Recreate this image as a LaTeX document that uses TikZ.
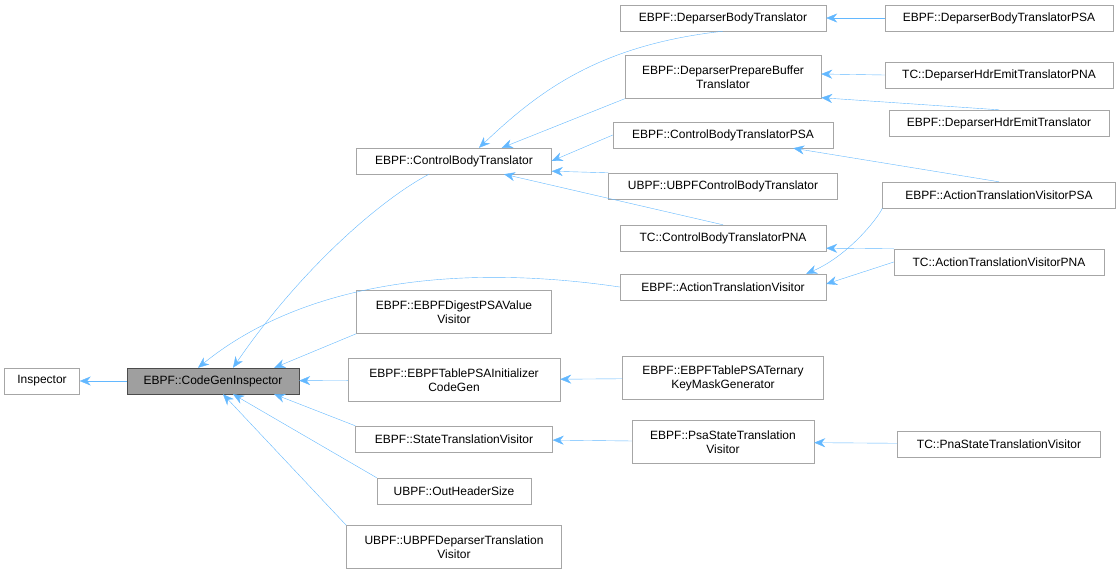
\documentclass[tikz,border=0pt]{standalone}
\usepackage{fontspec}
\setmainfont{Liberation Sans}
\usetikzlibrary{arrows.meta,calc}
\definecolor{edgeblue}{HTML}{63B8FF}
\tikzset{
  cls/.style={draw=gray!70, inner sep=0pt, minimum height=26pt, align=center, font=\fontsize{12}{14}\selectfont},
  tall/.style={minimum height=43pt},
  base/.style={cls, fill=gray!75, draw=black!70},
  inh/.style={draw=edgeblue, {Stealth[length=11pt,width=9pt]}-}
}
\begin{document}
\begin{tikzpicture}[x=1pt,y=-1pt]
\useasboundingbox (0,0) rectangle (1120,576);
\node[cls, minimum width=75] (insp) at (42,381) {Inspector};
\node[base, minimum width=172] (cgi) at (213,381) {EBPF::CodeGenInspector};
\node[cls, minimum width=195] (cbt) at (454,161) {EBPF::ControlBodyTranslator};
\node[cls, minimum width=206] (dbt) at (723,18) {EBPF::DeparserBodyTranslator};
\node[cls, minimum width=228] (dbtpsa) at (999,18) {EBPF::DeparserBodyTranslatorPSA};
\node[cls, tall, minimum width=196] (dpbt) at (723,77) {EBPF::DeparserPrepareBuffer\\Translator};
\node[cls, minimum width=228] (dhetpna) at (999,75) {TC::DeparserHdrEmitTranslatorPNA};
\node[cls, minimum width=220] (dhet) at (999,123) {EBPF::DeparserHdrEmitTranslator};
\node[cls, minimum width=220] (cbtpsa) at (723,135) {EBPF::ControlBodyTranslatorPSA};
\node[cls, minimum width=229] (ucbt) at (723,186) {UBPF::UBPFControlBodyTranslator};
\node[cls, minimum width=233] (atvpsa) at (999,195) {EBPF::ActionTranslationVisitorPSA};
\node[cls, minimum width=206] (cbtpna) at (723,238) {TC::ControlBodyTranslatorPNA};
\node[cls, minimum width=210] (atvpna) at (999,262) {TC::ActionTranslationVisitorPNA};
\node[cls, minimum width=206] (atv) at (723,287) {EBPF::ActionTranslationVisitor};
\node[cls, tall, minimum width=195] (dpsa) at (454,312) {EBPF::EBPFDigestPSAValue\\Visitor};
\node[cls, tall, minimum width=212] (tpsai) at (454,380) {EBPF::EBPFTablePSAInitializer\\CodeGen};
\node[cls, tall, minimum width=201] (tpsat) at (723,378) {EBPF::EBPFTablePSATernary\\KeyMaskGenerator};
\node[cls, minimum width=197] (stv) at (454,439) {EBPF::StateTranslationVisitor};
\node[cls, tall, minimum width=182] (pstv) at (723,442) {EBPF::PsaStateTranslation\\Visitor};
\node[cls, minimum width=203] (pnastv) at (999,444) {TC::PnaStateTranslationVisitor};
\node[cls, minimum width=154] (ohs) at (454,491) {UBPF::OutHeaderSize};
\node[cls, tall, minimum width=215] (udtv) at (454,547) {UBPF::UBPFDeparserTranslation\\Visitor};

\draw[inh] (insp) -- (cgi);
\draw[inh] ($(cgi.north)+(20,0)$) .. controls (300,270) and (380,200) .. ($(cbt.south)+(-25,0)$);
\draw[inh] ($(cgi.north)+(-15,0)$) .. controls (300,285) and (450,262) .. (atv.west);
\draw[inh] ($(cgi.north east)+(-25,0)$) -- (dpsa.south west);
\draw[inh] (cgi) -- (tpsai);
\draw[inh] ($(cgi.south east)+(-25,0)$) -- (stv.north west);
\draw[inh] ($(cgi.south)+(20,0)$) -- (ohs.north west);
\draw[inh] ($(cgi.south)+(10,0)$) -- (udtv.north west);
\draw[inh] ($(cbt.north)+(25,0)$) .. controls (540,90) and (600,45) .. (dbt.south);
\draw[inh] ($(cbt.north east)+(-50,0)$) -- (dpbt.south west);
\draw[inh] (cbt.east) -- (cbtpsa.west);
\draw[inh] ($(cbt.south east)+(0,-3)$) -- (ucbt.north west);
\draw[inh] ($(cbt.south)+(50,0)$) -- (cbtpna.north);
\draw[inh] (dbt) -- (dbtpsa);
\draw[inh] ($(dpbt.east)+(0,-3)$) -- (dhetpna.west);
\draw[inh] ($(dpbt.south east)+(0,-1)$) -- (dhet.north);
\draw[inh] ($(cbtpsa.south east)+(-40,0)$) -- (atvpsa.north);
\draw[inh] ($(atv.north east)+(-20,0)$) .. controls (850,255) and (880,215) .. (atvpsa.south west);
\draw[inh] ($(cbtpna.south east)+(0,-3)$) -- (atvpna.north west);
\draw[inh] ($(atv.east)+(0,-3)$) -- (atvpna.west);
\draw[inh] (tpsai) -- (tpsat);
\draw[inh] (stv) -- (pstv);
\draw[inh] (pstv) -- (pnastv);
\end{tikzpicture}
\end{document}
